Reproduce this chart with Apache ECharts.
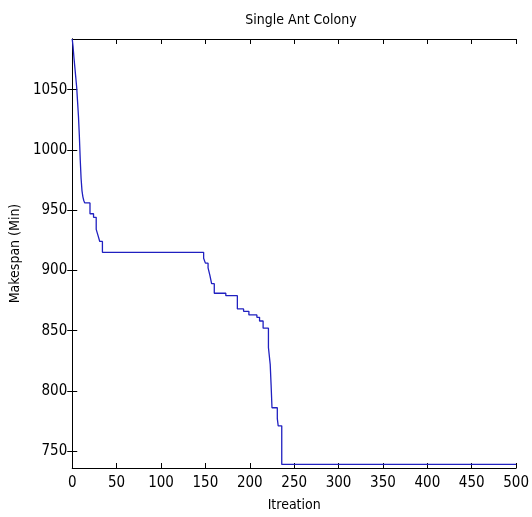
<!DOCTYPE html>
<html>
<head>
<meta charset="utf-8">
<script src="https://cdn.jsdelivr.net/npm/echarts@6/dist/echarts.min.js"></script>
<style>
html,body{margin:0;padding:0;background:#fff;}
#c{width:532px;height:517px;}
</style>
</head>
<body>
<div id="c"></div>
<script>
// Iteration at which the best makespan changes, and the new value
const iterations = [0,1,2,3,4,5,6,7,8,9,10,11,12,13,14,20,24,27,29,31,34,148,150,153,155,157,160,173,186,193,199,208,211,215,221,223,224,225,226,231,232,236,500];
const makespan  = [1092,1085,1076,1068,1060,1052,1040,1028,1012,992,976,966,961,958,956,947,944,934,929,924,915,910,906,902,896,889,881,879,868,866,863,861,858,852,836,822,805,786,786,777,771,739,739];
const xTicks = [0,50,100,150,200,250,300,350,400,450,500];
const yTicks = [750,800,850,900,950,1000,1050];

const font = "'DejaVu Sans Condensed','Liberation Sans Narrow','Liberation Sans',Arial,sans-serif";
const data = iterations.map((it,i)=>[it, makespan[i]]);

const chart = echarts.init(document.getElementById('c'), null, {renderer:'canvas'});
const tickStyle = {show:true, inside:true, length:5, lineStyle:{color:'#000', width:1}};
const axisCommon = {
  axisLine:{show:true, lineStyle:{color:'#000', width:1}},
  splitLine:{show:false}
};
const plain = v => String(v);
chart.setOption({
  backgroundColor:'#fff',
  animation:false,
  title:{text:'Single Ant Colony', left:296, textAlign:'center', top:8,
    textStyle:{fontFamily:font, fontSize:14, fontWeight:'normal', color:'#000'}},
  grid:{left:69, right:8, top:39, bottom:45, containLabel:false},
  xAxis:[
    Object.assign({type:'value', position:'bottom', min:0, max:500, interval:50,
      name:'Itreation', nameLocation:'middle', nameGap:30,
      nameTextStyle:{fontFamily:font, fontSize:14, color:'#000'},
      axisTick:Object.assign({customValues:xTicks}, tickStyle),
      axisLabel:{fontFamily:font, fontSize:15, color:'#000', margin:8, formatter:plain, customValues:xTicks}}, axisCommon),
    Object.assign({type:'value', position:'top', min:0, max:500, interval:50,
      axisTick:Object.assign({customValues:xTicks}, tickStyle),
      axisLabel:{show:false}}, axisCommon)
  ],
  yAxis:[
    Object.assign({type:'value', position:'left', min:736, max:1092,
      name:'Makespan (Min)', nameLocation:'middle', nameGap:42,
      nameTextStyle:{fontFamily:font, fontSize:14, color:'#000'},
      axisTick:Object.assign({customValues:yTicks}, tickStyle),
      axisLabel:{fontFamily:font, fontSize:15, color:'#000', margin:5, formatter:plain, customValues:yTicks}},
      axisCommon),
    Object.assign({type:'value', position:'right', min:736, max:1092,
      axisTick:Object.assign({customValues:yTicks}, tickStyle),
      axisLabel:{show:false}},
      axisCommon)
  ],
  series:[{
    type:'line', step:'end', data:data, xAxisIndex:0, yAxisIndex:0,
    showSymbol:false, symbol:'none',
    lineStyle:{color:'#2020c0', width:1.3}
  }]
});
</script>
</body>
</html>
